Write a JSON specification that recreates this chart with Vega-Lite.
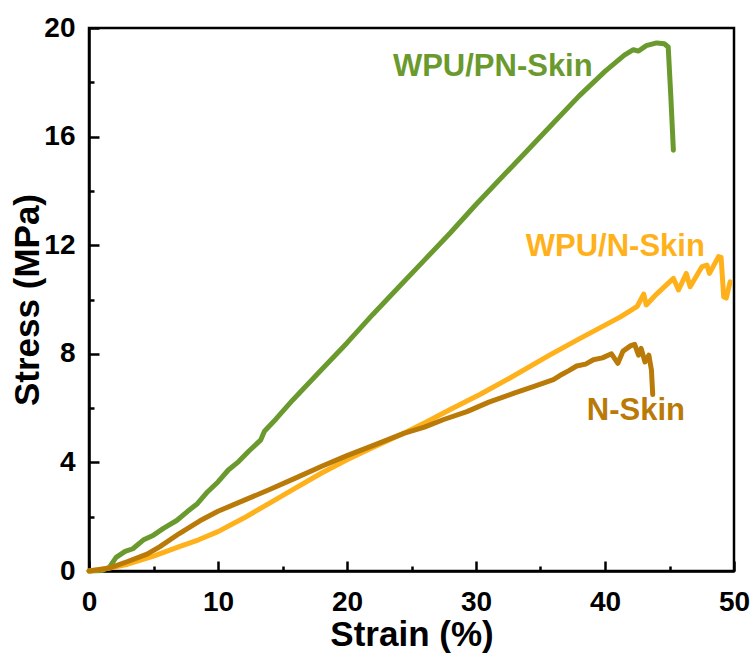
{
  "$schema": "https://vega.github.io/schema/vega-lite/v6.json",
  "width": 645,
  "height": 543,
  "autosize": {"type": "none"},
  "padding": {"left": 89, "top": 28, "right": 22, "bottom": 88},
  "background": "white",
  "config": {
    "view": {"stroke": "black", "strokeWidth": 2.5},
    "axis": {
      "domainColor": "black", "domainWidth": 2.5, "tickColor": "black", "tickWidth": 2.5,
      "labelFont": "Liberation Sans", "labelFontWeight": "bold", "labelFontSize": 28, "labelColor": "black",
      "titleFont": "Liberation Sans", "titleFontWeight": "bold", "titleFontSize": 35, "titleColor": "black",
      "grid": false
    }
  },
  "resolve": {"axis": {"x": "independent", "y": "independent"}},
  "datasets": {
    "curves": [
      {"series": "WPU/PN-Skin", "strain": 0, "stress": 0},
      {"series": "WPU/PN-Skin", "strain": 1.0, "stress": 0.02},
      {"series": "WPU/PN-Skin", "strain": 1.6, "stress": 0.15},
      {"series": "WPU/PN-Skin", "strain": 2.1, "stress": 0.5},
      {"series": "WPU/PN-Skin", "strain": 2.8, "stress": 0.72},
      {"series": "WPU/PN-Skin", "strain": 3.4, "stress": 0.82},
      {"series": "WPU/PN-Skin", "strain": 4.2, "stress": 1.14},
      {"series": "WPU/PN-Skin", "strain": 5.0, "stress": 1.32},
      {"series": "WPU/PN-Skin", "strain": 5.8, "stress": 1.58},
      {"series": "WPU/PN-Skin", "strain": 6.8, "stress": 1.86},
      {"series": "WPU/PN-Skin", "strain": 7.6, "stress": 2.18},
      {"series": "WPU/PN-Skin", "strain": 8.4, "stress": 2.48},
      {"series": "WPU/PN-Skin", "strain": 9.2, "stress": 2.92},
      {"series": "WPU/PN-Skin", "strain": 10.0, "stress": 3.28},
      {"series": "WPU/PN-Skin", "strain": 10.8, "stress": 3.72},
      {"series": "WPU/PN-Skin", "strain": 11.6, "stress": 4.03},
      {"series": "WPU/PN-Skin", "strain": 12.4, "stress": 4.42},
      {"series": "WPU/PN-Skin", "strain": 13.3, "stress": 4.82},
      {"series": "WPU/PN-Skin", "strain": 13.6, "stress": 5.15},
      {"series": "WPU/PN-Skin", "strain": 14.5, "stress": 5.6},
      {"series": "WPU/PN-Skin", "strain": 15.8, "stress": 6.3},
      {"series": "WPU/PN-Skin", "strain": 18.0, "stress": 7.4},
      {"series": "WPU/PN-Skin", "strain": 20.0, "stress": 8.4},
      {"series": "WPU/PN-Skin", "strain": 22.0, "stress": 9.45},
      {"series": "WPU/PN-Skin", "strain": 24.0, "stress": 10.45},
      {"series": "WPU/PN-Skin", "strain": 26.0, "stress": 11.45},
      {"series": "WPU/PN-Skin", "strain": 28.0, "stress": 12.45},
      {"series": "WPU/PN-Skin", "strain": 30.0, "stress": 13.5},
      {"series": "WPU/PN-Skin", "strain": 32.0, "stress": 14.5},
      {"series": "WPU/PN-Skin", "strain": 34.0, "stress": 15.5},
      {"series": "WPU/PN-Skin", "strain": 36.0, "stress": 16.5},
      {"series": "WPU/PN-Skin", "strain": 38.0, "stress": 17.5},
      {"series": "WPU/PN-Skin", "strain": 40.0, "stress": 18.4},
      {"series": "WPU/PN-Skin", "strain": 41.5, "stress": 19.0},
      {"series": "WPU/PN-Skin", "strain": 42.2, "stress": 19.2},
      {"series": "WPU/PN-Skin", "strain": 42.6, "stress": 19.15},
      {"series": "WPU/PN-Skin", "strain": 43.2, "stress": 19.35},
      {"series": "WPU/PN-Skin", "strain": 44.0, "stress": 19.45},
      {"series": "WPU/PN-Skin", "strain": 44.6, "stress": 19.42},
      {"series": "WPU/PN-Skin", "strain": 44.9, "stress": 19.3},
      {"series": "WPU/PN-Skin", "strain": 45.1, "stress": 17.5},
      {"series": "WPU/PN-Skin", "strain": 45.3, "stress": 15.5},
      {"series": "WPU/N-Skin", "strain": 0, "stress": 0},
      {"series": "WPU/N-Skin", "strain": 1.5, "stress": 0.1},
      {"series": "WPU/N-Skin", "strain": 3.0, "stress": 0.25},
      {"series": "WPU/N-Skin", "strain": 5.0, "stress": 0.55},
      {"series": "WPU/N-Skin", "strain": 7.0, "stress": 0.9},
      {"series": "WPU/N-Skin", "strain": 8.5, "stress": 1.15},
      {"series": "WPU/N-Skin", "strain": 10.0, "stress": 1.45},
      {"series": "WPU/N-Skin", "strain": 12.0, "stress": 1.95},
      {"series": "WPU/N-Skin", "strain": 14.0, "stress": 2.5},
      {"series": "WPU/N-Skin", "strain": 16.0, "stress": 3.05},
      {"series": "WPU/N-Skin", "strain": 18.0, "stress": 3.6},
      {"series": "WPU/N-Skin", "strain": 20.0, "stress": 4.1},
      {"series": "WPU/N-Skin", "strain": 22.0, "stress": 4.55},
      {"series": "WPU/N-Skin", "strain": 24.4, "stress": 5.07},
      {"series": "WPU/N-Skin", "strain": 26.0, "stress": 5.45},
      {"series": "WPU/N-Skin", "strain": 28.0, "stress": 5.95},
      {"series": "WPU/N-Skin", "strain": 30.3, "stress": 6.5},
      {"series": "WPU/N-Skin", "strain": 32.6, "stress": 7.1},
      {"series": "WPU/N-Skin", "strain": 35.7, "stress": 7.95},
      {"series": "WPU/N-Skin", "strain": 38.0, "stress": 8.55},
      {"series": "WPU/N-Skin", "strain": 41.2, "stress": 9.36},
      {"series": "WPU/N-Skin", "strain": 42.5, "stress": 9.75},
      {"series": "WPU/N-Skin", "strain": 43.0, "stress": 10.2},
      {"series": "WPU/N-Skin", "strain": 43.2, "stress": 9.8},
      {"series": "WPU/N-Skin", "strain": 44.0, "stress": 10.2},
      {"series": "WPU/N-Skin", "strain": 45.3, "stress": 10.78},
      {"series": "WPU/N-Skin", "strain": 45.7, "stress": 10.35},
      {"series": "WPU/N-Skin", "strain": 46.3, "stress": 10.96},
      {"series": "WPU/N-Skin", "strain": 46.6, "stress": 10.47},
      {"series": "WPU/N-Skin", "strain": 47.5, "stress": 11.2},
      {"series": "WPU/N-Skin", "strain": 47.9, "stress": 11.27},
      {"series": "WPU/N-Skin", "strain": 48.1, "stress": 10.96},
      {"series": "WPU/N-Skin", "strain": 48.8, "stress": 11.58},
      {"series": "WPU/N-Skin", "strain": 49.0, "stress": 11.55},
      {"series": "WPU/N-Skin", "strain": 49.2, "stress": 10.1},
      {"series": "WPU/N-Skin", "strain": 49.4, "stress": 10.05},
      {"series": "WPU/N-Skin", "strain": 49.7, "stress": 10.65},
      {"series": "N-Skin", "strain": 0, "stress": 0},
      {"series": "N-Skin", "strain": 1.5, "stress": 0.1},
      {"series": "N-Skin", "strain": 3.0, "stress": 0.35},
      {"series": "N-Skin", "strain": 4.5, "stress": 0.62},
      {"series": "N-Skin", "strain": 5.5, "stress": 0.9},
      {"series": "N-Skin", "strain": 7.0, "stress": 1.38},
      {"series": "N-Skin", "strain": 8.6, "stress": 1.85},
      {"series": "N-Skin", "strain": 10.0, "stress": 2.2},
      {"series": "N-Skin", "strain": 12.0, "stress": 2.6},
      {"series": "N-Skin", "strain": 14.0, "stress": 3.0},
      {"series": "N-Skin", "strain": 16.0, "stress": 3.42},
      {"series": "N-Skin", "strain": 18.0, "stress": 3.85},
      {"series": "N-Skin", "strain": 20.0, "stress": 4.25},
      {"series": "N-Skin", "strain": 22.0, "stress": 4.62},
      {"series": "N-Skin", "strain": 24.4, "stress": 5.07},
      {"series": "N-Skin", "strain": 26.0, "stress": 5.3},
      {"series": "N-Skin", "strain": 27.5, "stress": 5.58},
      {"series": "N-Skin", "strain": 29.3, "stress": 5.87},
      {"series": "N-Skin", "strain": 31.0, "stress": 6.22},
      {"series": "N-Skin", "strain": 32.9, "stress": 6.54},
      {"series": "N-Skin", "strain": 34.5, "stress": 6.8},
      {"series": "N-Skin", "strain": 36.0, "stress": 7.05},
      {"series": "N-Skin", "strain": 36.5, "stress": 7.2},
      {"series": "N-Skin", "strain": 37.2, "stress": 7.38},
      {"series": "N-Skin", "strain": 37.8, "stress": 7.55},
      {"series": "N-Skin", "strain": 38.5, "stress": 7.62},
      {"series": "N-Skin", "strain": 39.1, "stress": 7.78},
      {"series": "N-Skin", "strain": 39.8, "stress": 7.85},
      {"series": "N-Skin", "strain": 40.5, "stress": 8.0},
      {"series": "N-Skin", "strain": 41.0, "stress": 7.65},
      {"series": "N-Skin", "strain": 41.4, "stress": 8.1},
      {"series": "N-Skin", "strain": 42.0, "stress": 8.3},
      {"series": "N-Skin", "strain": 42.3, "stress": 8.35},
      {"series": "N-Skin", "strain": 42.6, "stress": 7.95},
      {"series": "N-Skin", "strain": 42.8, "stress": 8.2},
      {"series": "N-Skin", "strain": 43.1, "stress": 7.7},
      {"series": "N-Skin", "strain": 43.4, "stress": 7.95},
      {"series": "N-Skin", "strain": 43.6, "stress": 7.4},
      {"series": "N-Skin", "strain": 43.7, "stress": 6.5}
    ],
    "labels": [
      {"series": "WPU/PN-Skin", "strain": 31.3, "stress": 18.55},
      {"series": "WPU/N-Skin", "strain": 40.8, "stress": 11.95},
      {"series": "N-Skin", "strain": 42.4, "stress": 5.9}
    ]
  },
  "layer": [
    {
      "data": {"name": "curves"},
      "mark": {"type": "line", "strokeWidth": 5, "strokeJoin": "round", "strokeCap": "round"},
      "encoding": {
        "x": {"field": "strain", "type": "quantitative", "scale": {"domain": [0, 50], "nice": false},
          "axis": {"title": "Strain (%)", "orient": "bottom", "values": [0, 10, 20, 30, 40, 50],
            "tickSize": -10, "labelPadding": 27, "titlePadding": 1, "labelFlush": false}},
        "y": {"field": "stress", "type": "quantitative", "scale": {"domain": [0, 20], "nice": false},
          "axis": {"title": "Stress (MPa)", "orient": "left", "values": [0, 4, 8, 12, 16, 20],
            "tickSize": -10, "labelPadding": 24, "titlePadding": -2, "labelFlush": false}},
        "color": {"field": "series", "type": "nominal", "legend": null,
          "scale": {"domain": ["WPU/PN-Skin", "WPU/N-Skin", "N-Skin"], "range": ["#6A9A2E", "#FFB11B", "#B97A08"]}},
        "order": {"field": "strain", "type": "quantitative"}
      }
    },
    {
      "data": {"name": "labels"},
      "mark": {"type": "text", "font": "Liberation Sans", "fontWeight": "bold", "fontSize": 31, "align": "center", "baseline": "middle"},
      "encoding": {
        "x": {"field": "strain", "type": "quantitative",
          "axis": {"title": null, "orient": "bottom", "values": [5, 15, 25, 35, 45], "tickSize": -5, "labels": false, "domain": false}},
        "y": {"field": "stress", "type": "quantitative",
          "axis": {"title": null, "orient": "left", "values": [2, 6, 10, 14, 18], "tickSize": -5, "labels": false, "domain": false}},
        "text": {"field": "series"},
        "color": {"field": "series", "type": "nominal", "legend": null}
      }
    }
  ]
}
